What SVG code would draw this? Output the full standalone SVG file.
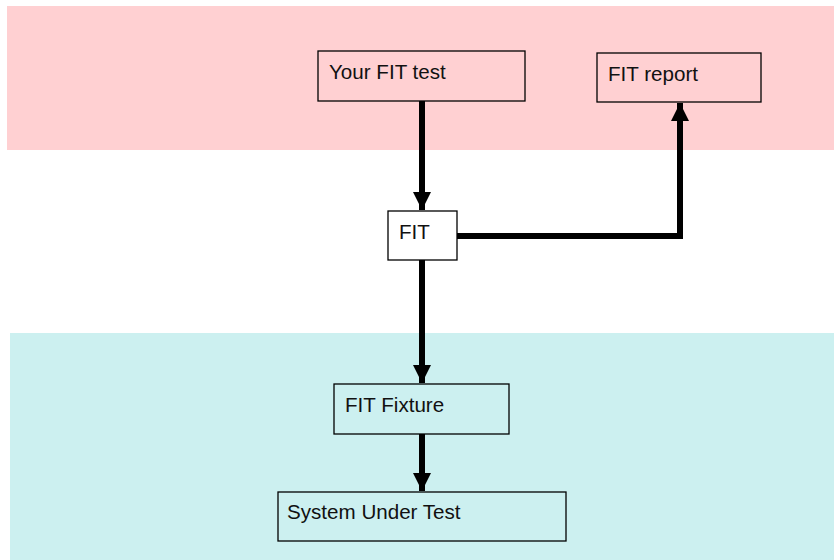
<svg xmlns="http://www.w3.org/2000/svg" width="834" height="560" viewBox="0 0 834 560">
<defs>
<style>
.box{stroke:#000;stroke-width:1.3}
.lbl{font-family:"Liberation Sans",Arial,sans-serif;font-size:20.6px;fill:#111}
.con{fill:none;stroke:#000;stroke-width:6}
</style>
<marker id="ah" viewBox="0 0 10 10" refX="10" refY="5" markerWidth="3" markerHeight="3" orient="auto" markerUnits="strokeWidth">
<path d="M0,0 L10,5 L0,10 Z" fill="#000"/>
</marker>
</defs>
<rect x="0" y="0" width="834" height="560" fill="#fff"/>
<rect id="band-top" x="7" y="6" width="827" height="144" fill="#FFD0D2"/>
<rect id="band-bottom" x="10" y="333" width="824" height="227" fill="#CCF0F0"/>
<g id="connectors">
<line class="con" x1="422" y1="101" x2="422" y2="210" marker-end="url(#ah)"/>
<polyline class="con" points="457,236 680,236 680,103" marker-end="url(#ah)"/>
<line class="con" x1="422" y1="260" x2="422" y2="383" marker-end="url(#ah)"/>
<line class="con" x1="422" y1="434" x2="422" y2="491" marker-end="url(#ah)"/>
</g>
<g id="your-fit-test">
<rect class="box" x="318" y="51" width="207" height="50" fill="#FFD0D2"/>
<text class="lbl" x="329" y="79">Your FIT test</text>
</g>
<g id="fit-report">
<rect class="box" x="597" y="53" width="164" height="49" fill="#FFD0D2"/>
<text class="lbl" x="608" y="81">FIT report</text>
</g>
<g id="fit">
<rect class="box" x="388" y="211" width="69" height="49" fill="#fff"/>
<text class="lbl" x="399" y="239">FIT</text>
</g>
<g id="fit-fixture">
<rect class="box" x="334" y="384" width="175" height="50" fill="#CCF0F0"/>
<text class="lbl" x="345" y="412">FIT Fixture</text>
</g>
<g id="system-under-test">
<rect class="box" x="278" y="492" width="288" height="49" fill="#CCF0F0"/>
<text class="lbl" x="287" y="519">System Under Test</text>
</g>
</svg>
